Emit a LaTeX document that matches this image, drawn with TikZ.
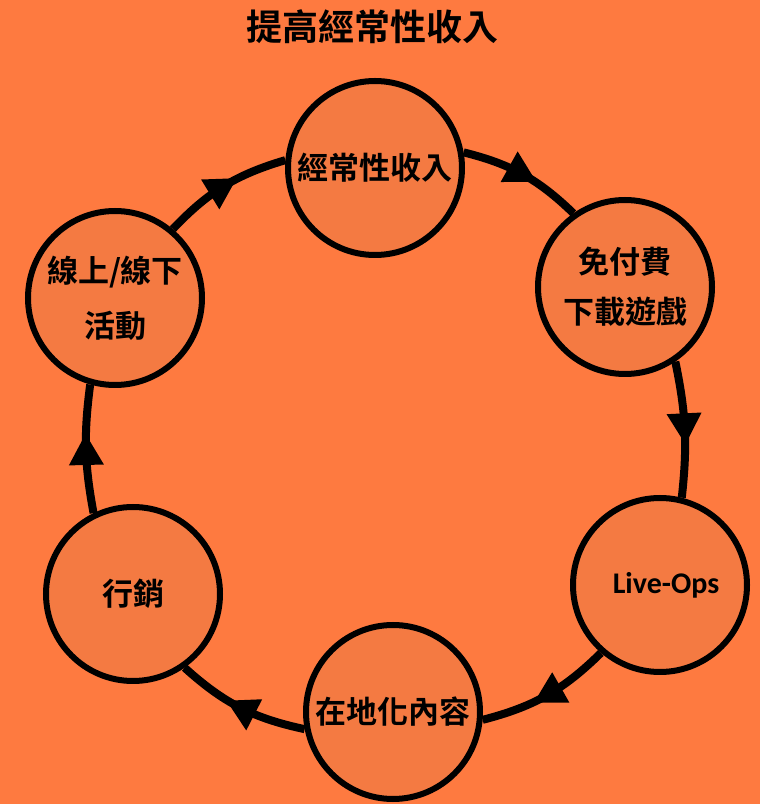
\documentclass[tikz,border=0pt]{standalone}
\usepackage{fontspec}
\usetikzlibrary{decorations.markings}
\newfontfamily\cjk{Noto Sans CJK TC}[UprightFont=* Bold]
\newfontfamily\carl{Carlito}[UprightFont=* Bold]
\definecolor{bgorange}{RGB}{254,122,64}
\definecolor{cirorange}{RGB}{244,122,66}
\tikzset{
  x=1pt,y=1pt,
  cyc/.style={circle,draw=black,line width=6pt,fill=cirorange,minimum size=174pt,inner sep=0pt,align=center,font=\cjk\fontsize{31}{50}\selectfont},
  link/.style={line width=8pt,bend left=15,postaction={decorate},
    decoration={markings,mark=at position 0.5 with {\fill[black] (-16,-17.5) -- (15,0) -- (-16,17.5) -- cycle;}}},
}
\begin{document}
\begin{tikzpicture}
\fill[bgorange] (0,0) rectangle (760,804);
\useasboundingbox (0,0) rectangle (760,804);
\node[font=\cjk\fontsize{36}{40}\selectfont] (title) at (372,777) {提高經常性收入};
\node[cyc] (n1) at (375,636) {經常性收入};
\node[cyc] (n2) at (625,517) {免付費\\下載遊戲};
\node[cyc] (n3) at (660,219) {};
\node[font=\carl\fontsize{30}{32}\selectfont] (t3) at (666,219) {Live-Ops};
\node[cyc] (n4) at (393,92) {在地化內容};
\node[cyc] (n5) at (133,210) {行銷};
\node[cyc,font=\cjk\fontsize{31}{55}\selectfont] (n6) at (115,506) {線上/線下\\活動};
\draw[link] (n1.10) to (n2.125);
\draw[link,bend left=9] (n2.-56) to (n3.76);
\draw[link] (n3.-131) to (n4.-5);
\draw[link] (n4.191) to (n5.-55);
\draw[link,bend left=9] (n5.116) to (n6.-106);
\draw[link] (n6.50) to (n1.175);
\end{tikzpicture}
\end{document}
